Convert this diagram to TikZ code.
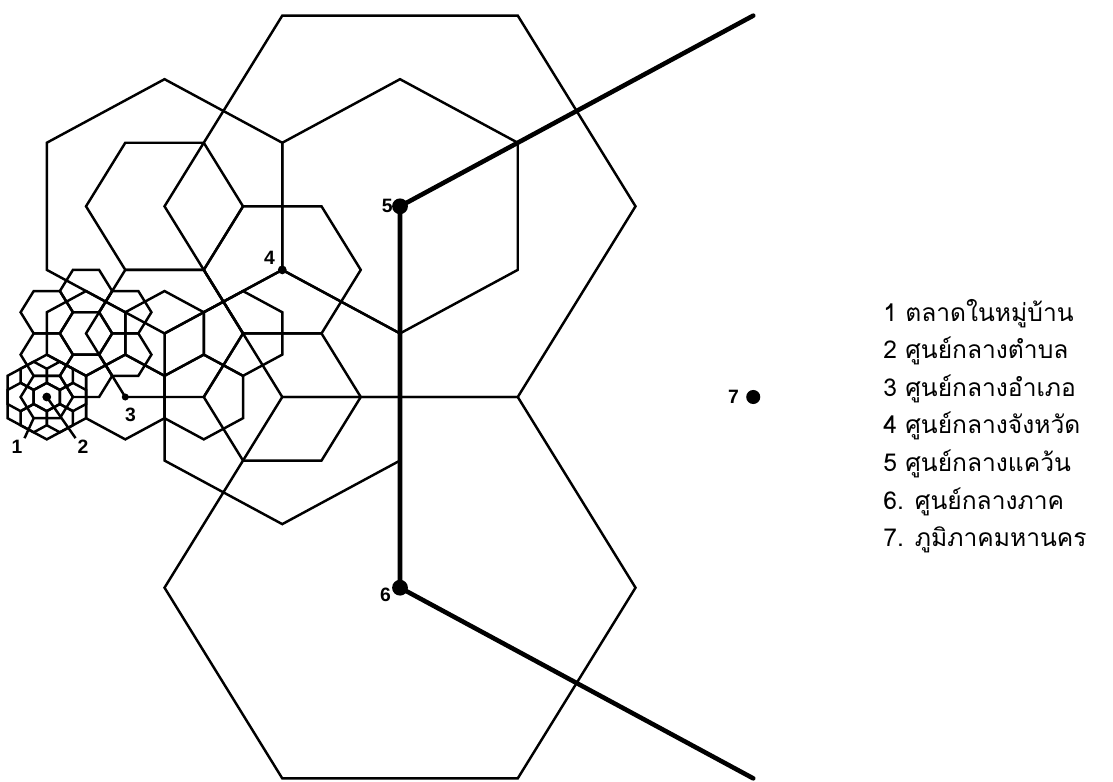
\documentclass[tikz,border=0pt]{standalone}
\usepackage{fontspec}
\newfontfamily\thaifont[Script=Thai]{Loma}
\newfontfamily\numfont{Liberation Sans}
\usetikzlibrary{positioning}

\tikzset{
  hexline/.style={line width=1.4pt, line join=miter},
  regionline/.style={line width=2.6pt, line cap=round},
  centre/.style={circle, fill, inner sep=0pt, minimum size=#1},
  numlabel/.style={font=\numfont\bfseries\fontsize{11}{11}\selectfont, inner sep=1pt},
  legendtext/.style={font=\thaifont\fontsize{14}{14}\selectfont, anchor=base west, inner sep=0pt},
}

% flat-top and pointy-top hexagons: centre x, centre y, radius
\newcommand{\hexF}[3]{\draw[hexline] ({#1},{#2}) ++(0:#3) -- ++(120:#3) -- ++(180:#3) -- ++(240:#3) -- ++(300:#3) -- ++(0:#3) -- cycle;}
\newcommand{\hexP}[3]{\draw[hexline] ({#1},{#2}) ++(30:#3) -- ++(150:#3) -- ++(210:#3) -- ++(270:#3) -- ++(330:#3) -- ++(30:#3) -- cycle;}

\begin{document}
\begin{tikzpicture}[x=1.57cm, y=1.468cm]
  \useasboundingbox (-5.096,-5.232) rectangle (9.083,5.409);

  \coordinate (c7) at (4.5,0);
  \coordinate (c6) at (0,-2.598);
  \coordinate (c5) at (0,2.598);
  \coordinate (c4) at (-1.5,1.732);
  \coordinate (c3) at (-3.5,0);
  \coordinate (c2) at (-4.5,0);
  \coordinate (c1) at (-4.667,-0.289);
  \coordinate (t7) at (4.5,5.196);
  \coordinate (b7) at (4.5,-5.196);

  % level 6
  \foreach \cx/\cy in {0/2.598, 0/-2.598} {\hexF{\cx}{\cy}{3}}
  % level 5
  \foreach \cx/\cy in {0/2.598, -3/2.598, -1.5/0} {\hexP{\cx}{\cy}{1.732}}
  % level 4
  \foreach \cx/\cy in {-1.5/1.732, -3/2.598, -3/0.866, -1.5/0} {\hexF{\cx}{\cy}{1}}
  % level 3
  \foreach \cx/\cy in {-3.5/0, -3/0.866, -2/0.866, -2.5/0, -4.5/0, -4/0.866} {\hexP{\cx}{\cy}{0.57735}}
  % level 2
  \hexF{-4.5}{0}{0.33333}
  \hexF{-4}{0.866}{0.33333}
  \foreach \a in {30,90,...,330} {\hexF{-4+0.57735*cos(\a)}{0.866+0.57735*sin(\a)}{0.33333}}
  % level 1
  \hexP{-4.5}{0}{0.19245}
  \foreach \a in {0,60,...,300} {\hexP{-4.5+0.33333*cos(\a)}{0.33333*sin(\a)}{0.19245}}

  % level 7
  \draw[regionline] (t7) -- (c5) -- (c6) -- (b7);

  \node[centre=9pt] at (c5) {};
  \node[centre=9pt] at (c6) {};
  \node[centre=8pt] at (c7) {};
  \node[centre=5pt] at (c4) {};
  \node[centre=4pt] at (c3) {};
  \node[centre=5pt] at (c2) {};

  \node[numlabel, left=3pt of c5] {5};
  \node[numlabel, left=4pt of c6, yshift=-4pt] {6};
  \node[numlabel, left=7pt of c7] {7};
  \node[numlabel, above left=2pt and 3pt of c4] {4};
  \node[numlabel, below=5pt of c3, xshift=3pt] {3};
  \node[numlabel] (lab1) at (-4.879,-0.681) {1};
  \node[numlabel] (lab2) at (-4.038,-0.681) {2};
  \draw[hexline] (lab1.north east) -- (c1);
  \draw[hexline] (lab2.north west) -- (c2);

  \foreach \txt [count=\i] in {1 ตลาดในหมู่บ้าน, 2 ศูนย์กลางตำบล, 3 ศูนย์กลางอำเภอ, 4 ศูนย์กลางจังหวัด, 5 ศูนย์กลางแคว้น, 6. ศูนย์กลางภาค, 7. ภูมิภาคมหานคร}
    \node[legendtext] (leg\i) at (6.153,1.54-0.511*\i) {\txt};
\end{tikzpicture}
\end{document}
